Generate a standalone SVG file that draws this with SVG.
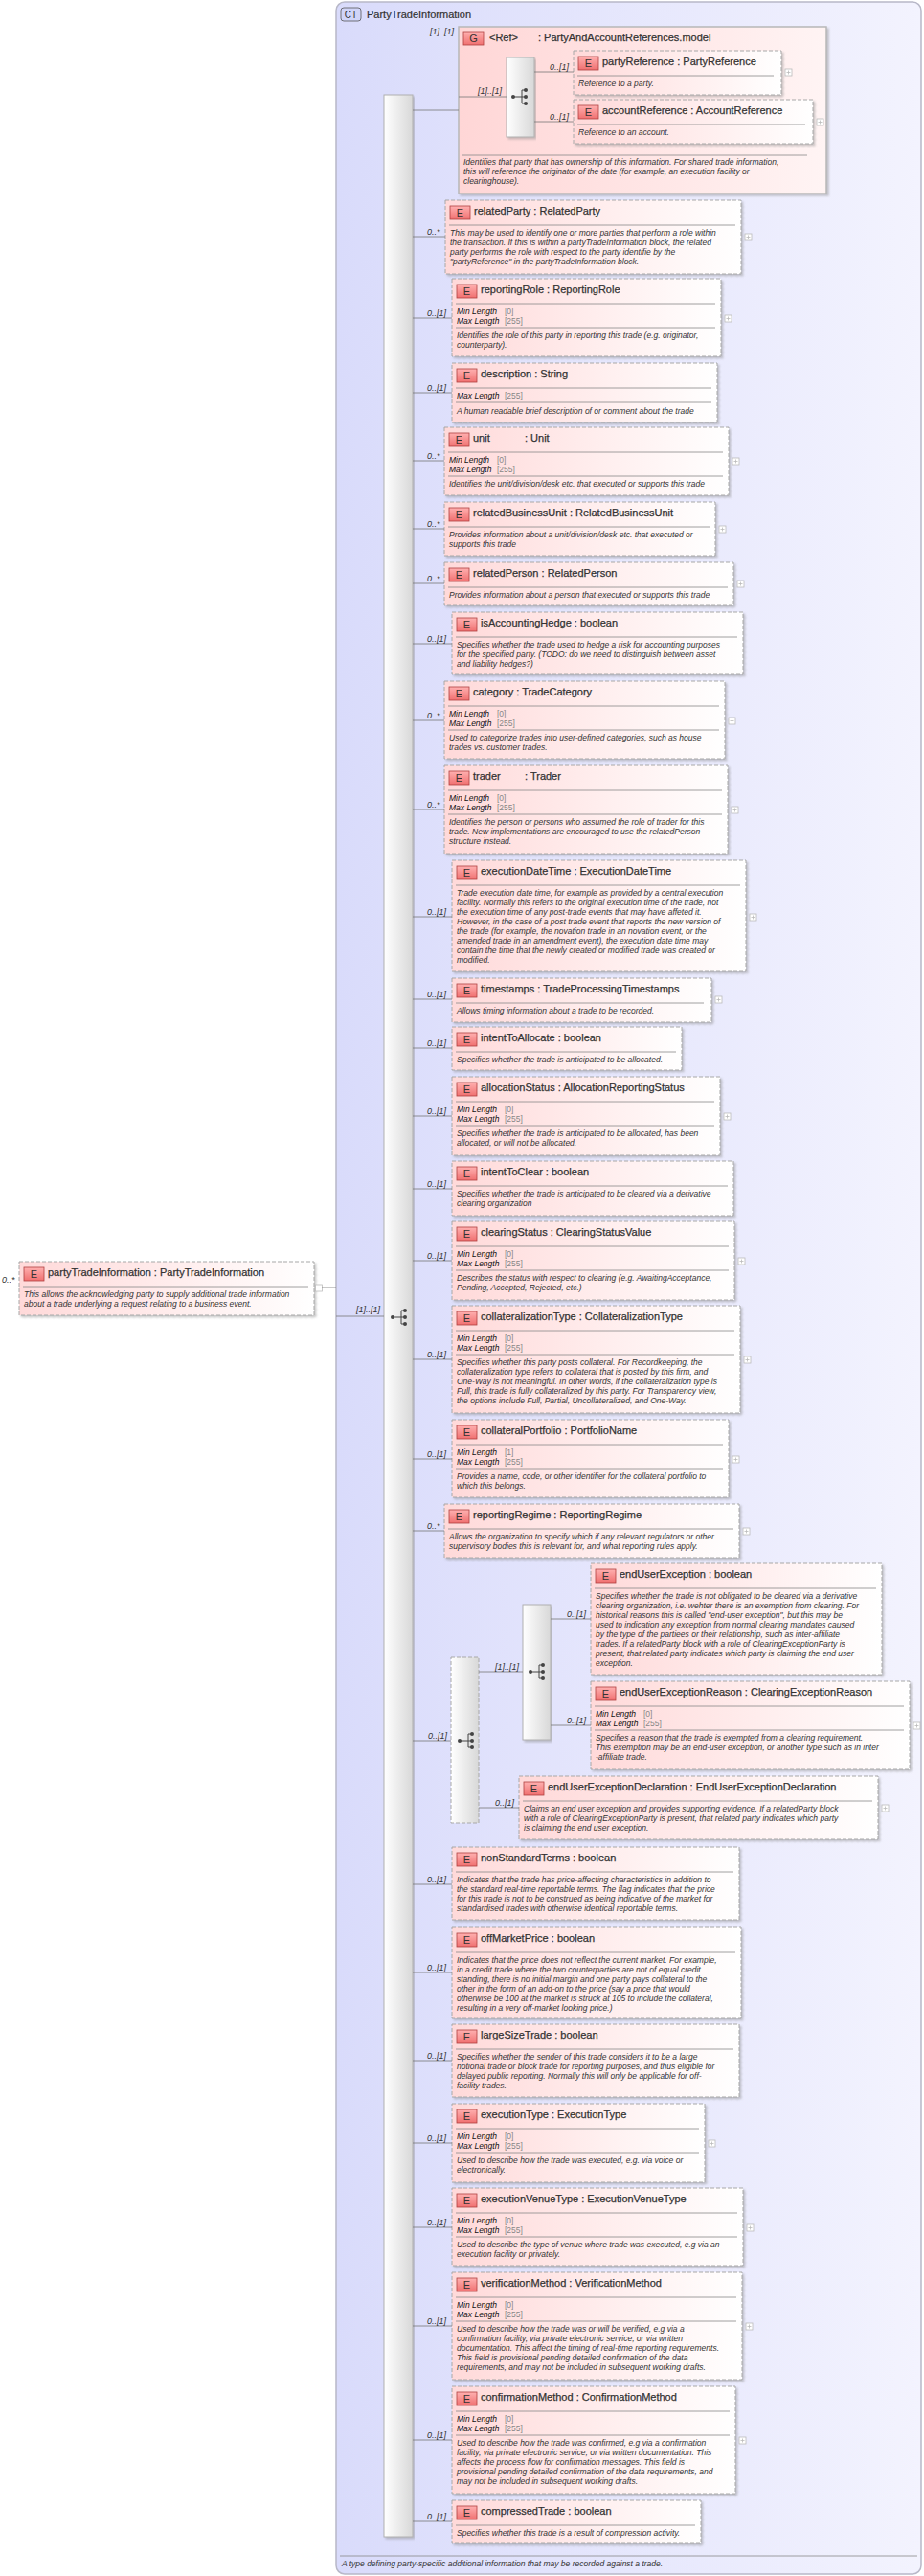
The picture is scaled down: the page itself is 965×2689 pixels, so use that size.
<svg xmlns="http://www.w3.org/2000/svg" width="965" height="2689" viewBox="0 0 965 2689">
<defs>
<linearGradient id="gCT" x1="0" x2="1" y1="0" y2="0"><stop offset="0" stop-color="#d9dbfb"/><stop offset="1" stop-color="#f3f3fe"/></linearGradient>
<linearGradient id="gEl" x1="0" x2="1" y1="0" y2="0"><stop offset="0" stop-color="#ffd9d9"/><stop offset="1" stop-color="#ffffff"/></linearGradient>
<linearGradient id="gG" x1="0" x2="1" y1="0" y2="0"><stop offset="0" stop-color="#ffd6d6"/><stop offset="1" stop-color="#fff4f4"/></linearGradient>
<linearGradient id="gBar" x1="0" x2="1" y1="0" y2="0"><stop offset="0" stop-color="#ffffff"/><stop offset="1" stop-color="#d8d8d8"/></linearGradient>
<linearGradient id="gIc" x1="0" x2="0" y1="0" y2="1"><stop offset="0" stop-color="#ffb0b0"/><stop offset="1" stop-color="#f07070"/></linearGradient>
<filter id="sh" x="-5%" y="-5%" width="110%" height="115%"><feDropShadow dx="2" dy="2" stdDeviation="1" flood-color="#888" flood-opacity="0.45"/></filter>
</defs>
<style>
text{font-family:"Liberation Sans",Arial,sans-serif;}
.box{fill:url(#gEl);stroke:#a8a8a8;stroke-width:1;stroke-dasharray:4,2;filter:url(#sh);}
.gbox{fill:url(#gG);stroke:#b8b8b8;stroke-width:1.5;filter:url(#sh);}
.ei{fill:url(#gIc);stroke:#b04040;stroke-width:0.8;}
.eil{font-size:11px;fill:#333;text-anchor:middle;}
.hd{font-size:11px;fill:#333;stroke:#333;stroke-width:0.25;}
.sep{stroke:#888;stroke-width:0.8;}
.ds{font-size:8.5px;font-style:italic;fill:#333;}
.mm{font-size:8.5px;font-style:italic;fill:#111;}
.mv{font-size:8.5px;fill:#888;}
.pl{fill:#fff;stroke:#bbb;stroke-width:0.8;}
.plx{stroke:#bbb;stroke-width:0.8;}
.bar{fill:url(#gBar);stroke:#b0b0b0;stroke-width:1;filter:url(#sh);}
.dbar{fill:url(#gBar);stroke:#a8a8a8;stroke-width:1;stroke-dasharray:4,2;}
.cn{stroke:#777;stroke-width:0.8;fill:none;}
.cd{font-size:9px;font-style:italic;fill:#333;}
.ic{stroke:#444;stroke-width:1;fill:none;}
.icd{fill:#444;}
</style>

<g id="ct-PartyTradeInformation">
<rect x="351" y="2" width="611" height="2685" rx="9" fill="url(#gCT)" stroke="#b8b8c8" stroke-width="1.5"/>
<rect x="356" y="8" width="21" height="14" rx="3" fill="#d0d4f8" stroke="#555" stroke-width="0.8"/>
<text x="366.5" y="19" font-size="10" fill="#333" text-anchor="middle">CT</text>
<text x="383" y="19" font-size="11" fill="#333" stroke="#333" stroke-width="0.2">PartyTradeInformation</text>
<line x1="355" y1="2668" x2="958" y2="2668" class="sep"/>
<text x="357" y="2679" class="ds">A type defining party-specific additional information that may be recorded against a trade.</text>
</g>

<g id="seq-main">
<rect class="bar" x="401" y="99" width="30" height="2549"/>
<circle class="icd" cx="410" cy="1375" r="2"/><line class="ic" x1="410" y1="1375" x2="416" y2="1375"/>
<path class="ic" d="M419,1368 V1382 M416,1375 H419 M419,1368 H423 M419,1375 H423 M419,1382 H423"/>
<circle class="icd" cx="423" cy="1368" r="2"/><circle class="icd" cx="423" cy="1375" r="2"/><circle class="icd" cx="423" cy="1382" r="2"/>
</g>

<g id="el-partyTradeInformation" transform="translate(20,1317)">
<rect class="box" width="308" height="56"/>
<rect class="ei" x="5" y="6" width="21" height="14"/><text class="eil" x="15.5" y="17">E</text>
<text class="hd" x="30" y="15">partyTradeInformation : PartyTradeInformation</text>
<line class="sep" x1="4" x2="302" y1="26" y2="26"/>
<text class="ds"><tspan x="5" y="37">This allows the acknowledging party to supply additional trade information</tspan><tspan x="5" y="47">about a trade underlying a request relating to a business event.</tspan></text>
<rect class="pl" x="309.5" y="24" width="7" height="7"/><line class="plx" x1="311" y1="27.5" x2="315" y2="27.5"/>
</g>

<g id="grp-PartyAndAccountReferences">
<rect class="gbox" x="479" y="28" width="384" height="174"/>
<rect class="ei" x="484" y="33" width="21" height="14"/><text class="eil" x="494.5" y="44">G</text>
<text class="hd" x="511" y="43">&lt;Ref&gt;</text>
<text class="hd" x="562" y="43">: PartyAndAccountReferences.model</text>
<rect class="bar" x="529" y="60" width="29" height="83"/>
<circle class="icd" cx="536" cy="101" r="2"/><line class="ic" x1="536" y1="101" x2="542" y2="101"/>
<path class="ic" d="M545,94 V108 M542,101 H545 M545,94 H549 M545,101 H549 M545,108 H549"/>
<circle class="icd" cx="549" cy="94" r="2"/><circle class="icd" cx="549" cy="101" r="2"/><circle class="icd" cx="549" cy="108" r="2"/>
<line class="sep" x1="483" x2="843" y1="162" y2="162"/>
<text class="ds"><tspan x="484" y="172">Identifies that party that has ownership of this information. For shared trade information,</tspan><tspan x="484" y="182">this will reference the originator of the date (for example, an execution facility or</tspan><tspan x="484" y="192">clearinghouse).</tspan></text>
</g>

<g id="el-partyReference" transform="translate(599,53)">
<rect class="box" width="217" height="46"/>
<rect class="ei" x="5" y="6" width="21" height="14"/><text class="eil" x="15.5" y="17">E</text>
<text class="hd" x="30" y="15">partyReference : PartyReference</text>
<line class="sep" x1="4" x2="209" y1="26" y2="26"/>
<text class="ds" x="5" y="37">Reference to a party.</text>
<rect class="pl" x="221" y="19" width="7" height="7"/><path class="plx" d="M222.5,22.5 H226.5 M224.5,20.5 V24.5"/>
</g>
<g id="el-accountReference" transform="translate(599,104)">
<rect class="box" width="250" height="46"/>
<rect class="ei" x="5" y="6" width="21" height="14"/><text class="eil" x="15.5" y="17">E</text>
<text class="hd" x="30" y="15">accountReference : AccountReference</text>
<line class="sep" x1="4" x2="242" y1="26" y2="26"/>
<text class="ds" x="5" y="37">Reference to an account.</text>
<rect class="pl" x="254" y="20" width="7" height="7"/><path class="plx" d="M255.5,23.5 H259.5 M257.5,21.5 V25.5"/>
</g>

<g id="el-relatedParty" transform="translate(465,209)">
<rect class="box" width="309" height="77"/>
<rect class="ei" x="5" y="6" width="21" height="14"/><text class="eil" x="15.5" y="17">E</text>
<text class="hd" x="30" y="15">relatedParty : RelatedParty</text>
<line class="sep" x1="4" x2="303" y1="26" y2="26"/>
<text class="ds"><tspan x="5" y="37">This may be used to identify one or more parties that perform a role within</tspan><tspan x="5" y="47">the transaction. If this is within a partyTradeInformation block, the related</tspan><tspan x="5" y="57">party performs the role with respect to the party identifie by the</tspan><tspan x="5" y="67">"partyReference" in the partyTradeInformation block.</tspan></text>
<rect class="pl" x="313" y="35" width="7" height="7"/><path class="plx" d="M314.5,38.5 H318.5 M316.5,36.5 V40.5"/>
</g>

<g id="el-reportingRole" transform="translate(472,291)">
<rect class="box" width="281" height="81"/>
<rect class="ei" x="5" y="6" width="21" height="14"/><text class="eil" x="15.5" y="17">E</text>
<text class="hd" x="30" y="15">reportingRole : ReportingRole</text>
<line class="sep" x1="4" x2="275" y1="26" y2="26"/>
<text class="mm" x="5" y="37">Min Length</text><text class="mv" x="55" y="37">[0]</text>
<text class="mm" x="5" y="47">Max Length</text><text class="mv" x="55" y="47">[255]</text>
<line class="sep" x1="4" x2="275" y1="51" y2="51"/>
<text class="ds"><tspan x="5" y="62">Identifies the role of this party in reporting this trade (e.g. originator,</tspan><tspan x="5" y="72">counterparty).</tspan></text>
<rect class="pl" x="285" y="38" width="7" height="7"/><path class="plx" d="M286.5,41.5 H290.5 M288.5,39.5 V43.5"/>
</g>

<g id="el-description" transform="translate(472,379)">
<rect class="box" width="277" height="62"/>
<rect class="ei" x="5" y="6" width="21" height="14"/><text class="eil" x="15.5" y="17">E</text>
<text class="hd" x="30" y="15">description : String</text>
<line class="sep" x1="4" x2="271" y1="26" y2="26"/>
<text class="mm" x="5" y="37">Max Length</text><text class="mv" x="55" y="37">[255]</text>
<line class="sep" x1="4" x2="271" y1="41" y2="41"/>
<text class="ds" x="5" y="53">A human readable brief description of or comment about the trade</text>
</g>

<g id="el-unit" transform="translate(464,446)">
<rect class="box" width="297" height="71"/>
<rect class="ei" x="5" y="6" width="21" height="14"/><text class="eil" x="15.5" y="17">E</text>
<text class="hd" x="30" y="15">unit</text><text class="hd" x="84" y="15">: Unit</text>
<line class="sep" x1="4" x2="291" y1="26" y2="26"/>
<text class="mm" x="5" y="37">Min Length</text><text class="mv" x="55" y="37">[0]</text>
<text class="mm" x="5" y="47">Max Length</text><text class="mv" x="55" y="47">[255]</text>
<line class="sep" x1="4" x2="291" y1="51" y2="51"/>
<text class="ds" x="5" y="62">Identifies the unit/division/desk etc. that executed or supports this trade</text>
<rect class="pl" x="301" y="32" width="7" height="7"/><path class="plx" d="M302.5,35.5 H306.5 M304.5,33.5 V37.5"/>
</g>

<g id="el-relatedBusinessUnit" transform="translate(464,524)">
<rect class="box" width="283" height="56"/>
<rect class="ei" x="5" y="6" width="21" height="14"/><text class="eil" x="15.5" y="17">E</text>
<text class="hd" x="30" y="15">relatedBusinessUnit : RelatedBusinessUnit</text>
<line class="sep" x1="4" x2="277" y1="26" y2="26"/>
<text class="ds"><tspan x="5" y="37">Provides information about a unit/division/desk etc. that executed or</tspan><tspan x="5" y="47">supports this trade</tspan></text>
<rect class="pl" x="287" y="25" width="7" height="7"/><path class="plx" d="M288.5,28.5 H292.5 M290.5,26.5 V30.5"/>
</g>

<g id="el-relatedPerson" transform="translate(464,587)">
<rect class="box" width="302" height="45"/>
<rect class="ei" x="5" y="6" width="21" height="14"/><text class="eil" x="15.5" y="17">E</text>
<text class="hd" x="30" y="15">relatedPerson : RelatedPerson</text>
<line class="sep" x1="4" x2="296" y1="26" y2="26"/>
<text class="ds" x="5" y="37">Provides information about a person that executed or supports this trade</text>
<rect class="pl" x="306" y="19" width="7" height="7"/><path class="plx" d="M307.5,22.5 H311.5 M309.5,20.5 V24.5"/>
</g>

<g id="el-isAccountingHedge" transform="translate(472,639)">
<rect class="box" width="304" height="65"/>
<rect class="ei" x="5" y="6" width="21" height="14"/><text class="eil" x="15.5" y="17">E</text>
<text class="hd" x="30" y="15">isAccountingHedge : boolean</text>
<line class="sep" x1="4" x2="298" y1="26" y2="26"/>
<text class="ds"><tspan x="5" y="37">Specifies whether the trade used to hedge a risk for accounting purposes</tspan><tspan x="5" y="47">for the specified party. (TODO: do we need to distinguish between asset</tspan><tspan x="5" y="57">and liability hedges?)</tspan></text>
</g>

<g id="el-category" transform="translate(464,711)">
<rect class="box" width="293" height="81"/>
<rect class="ei" x="5" y="6" width="21" height="14"/><text class="eil" x="15.5" y="17">E</text>
<text class="hd" x="30" y="15">category : TradeCategory</text>
<line class="sep" x1="4" x2="287" y1="26" y2="26"/>
<text class="mm" x="5" y="37">Min Length</text><text class="mv" x="55" y="37">[0]</text>
<text class="mm" x="5" y="47">Max Length</text><text class="mv" x="55" y="47">[255]</text>
<line class="sep" x1="4" x2="287" y1="51" y2="51"/>
<text class="ds"><tspan x="5" y="62">Used to categorize trades into user-defined categories, such as house</tspan><tspan x="5" y="72">trades vs. customer trades.</tspan></text>
<rect class="pl" x="297" y="38" width="7" height="7"/><path class="plx" d="M298.5,41.5 H302.5 M300.5,39.5 V43.5"/>
</g>

<g id="el-trader" transform="translate(464,799)">
<rect class="box" width="296" height="92"/>
<rect class="ei" x="5" y="6" width="21" height="14"/><text class="eil" x="15.5" y="17">E</text>
<text class="hd" x="30" y="15">trader</text><text class="hd" x="84" y="15">: Trader</text>
<line class="sep" x1="4" x2="290" y1="26" y2="26"/>
<text class="mm" x="5" y="37">Min Length</text><text class="mv" x="55" y="37">[0]</text>
<text class="mm" x="5" y="47">Max Length</text><text class="mv" x="55" y="47">[255]</text>
<line class="sep" x1="4" x2="290" y1="51" y2="51"/>
<text class="ds"><tspan x="5" y="62">Identifies the person or persons who assumed the role of trader for this</tspan><tspan x="5" y="72">trade. New implementations are encouraged to use the relatedPerson</tspan><tspan x="5" y="82">structure instead.</tspan></text>
<rect class="pl" x="300" y="43" width="7" height="7"/><path class="plx" d="M301.5,46.5 H305.5 M303.5,44.5 V48.5"/>
</g>

<g id="el-executionDateTime" transform="translate(472,898)">
<rect class="box" width="307" height="116"/>
<rect class="ei" x="5" y="6" width="21" height="14"/><text class="eil" x="15.5" y="17">E</text>
<text class="hd" x="30" y="15">executionDateTime : ExecutionDateTime</text>
<line class="sep" x1="4" x2="301" y1="26" y2="26"/>
<text class="ds"><tspan x="5" y="37">Trade execution date time, for example as provided by a central execution</tspan><tspan x="5" y="47">facility. Normally this refers to the original execution time of the trade, not</tspan><tspan x="5" y="57">the execution time of any post-trade events that may have affeted it.</tspan><tspan x="5" y="67">However, in the case of a post trade event that reports the new version of</tspan><tspan x="5" y="77">the trade (for example, the novation trade in an novation event, or the</tspan><tspan x="5" y="87">amended trade in an amendment event), the execution date time may</tspan><tspan x="5" y="97">contain the time that the newly created or modified trade was created or</tspan><tspan x="5" y="107">modified.</tspan></text>
<rect class="pl" x="311" y="56" width="7" height="7"/><path class="plx" d="M312.5,59.5 H316.5 M314.5,57.5 V61.5"/>
</g>

<g id="el-timestamps" transform="translate(472,1021)">
<rect class="box" width="271" height="46"/>
<rect class="ei" x="5" y="6" width="21" height="14"/><text class="eil" x="15.5" y="17">E</text>
<text class="hd" x="30" y="15">timestamps : TradeProcessingTimestamps</text>
<line class="sep" x1="4" x2="263" y1="26" y2="26"/>
<text class="ds" x="5" y="37">Allows timing information about a trade to be recorded.</text>
<rect class="pl" x="275" y="19" width="7" height="7"/><path class="plx" d="M276.5,22.5 H280.5 M278.5,20.5 V24.5"/>
</g>

<g id="el-intentToAllocate" transform="translate(472,1072)">
<rect class="box" width="240" height="45"/>
<rect class="ei" x="5" y="6" width="21" height="14"/><text class="eil" x="15.5" y="17">E</text>
<text class="hd" x="30" y="15">intentToAllocate : boolean</text>
<line class="sep" x1="4" x2="234" y1="26" y2="26"/>
<text class="ds" x="5" y="37">Specifies whether the trade is anticipated to be allocated.</text>
</g>

<g id="el-allocationStatus" transform="translate(472,1124)">
<rect class="box" width="280" height="82"/>
<rect class="ei" x="5" y="6" width="21" height="14"/><text class="eil" x="15.5" y="17">E</text>
<text class="hd" x="30" y="15">allocationStatus : AllocationReportingStatus</text>
<line class="sep" x1="4" x2="274" y1="26" y2="26"/>
<text class="mm" x="5" y="37">Min Length</text><text class="mv" x="55" y="37">[0]</text>
<text class="mm" x="5" y="47">Max Length</text><text class="mv" x="55" y="47">[255]</text>
<line class="sep" x1="4" x2="274" y1="51" y2="51"/>
<text class="ds"><tspan x="5" y="62">Specifies whether the trade is anticipated to be allocated, has been</tspan><tspan x="5" y="72">allocated, or will not be allocated.</tspan></text>
<rect class="pl" x="284" y="38" width="7" height="7"/><path class="plx" d="M285.5,41.5 H289.5 M287.5,39.5 V43.5"/>
</g>

<g id="el-intentToClear" transform="translate(472,1212)">
<rect class="box" width="294" height="57"/>
<rect class="ei" x="5" y="6" width="21" height="14"/><text class="eil" x="15.5" y="17">E</text>
<text class="hd" x="30" y="15">intentToClear : boolean</text>
<line class="sep" x1="4" x2="288" y1="26" y2="26"/>
<text class="ds"><tspan x="5" y="37">Specifies whether the trade is anticipated to be cleared via a derivative</tspan><tspan x="5" y="47">clearing organization</tspan></text>
</g>

<g id="el-clearingStatus" transform="translate(472,1275)">
<rect class="box" width="295" height="82"/>
<rect class="ei" x="5" y="6" width="21" height="14"/><text class="eil" x="15.5" y="17">E</text>
<text class="hd" x="30" y="15">clearingStatus : ClearingStatusValue</text>
<line class="sep" x1="4" x2="289" y1="26" y2="26"/>
<text class="mm" x="5" y="37">Min Length</text><text class="mv" x="55" y="37">[0]</text>
<text class="mm" x="5" y="47">Max Length</text><text class="mv" x="55" y="47">[255]</text>
<line class="sep" x1="4" x2="289" y1="51" y2="51"/>
<text class="ds"><tspan x="5" y="62">Describes the status with respect to clearing (e.g. AwaitingAcceptance,</tspan><tspan x="5" y="72">Pending, Accepted, Rejected, etc.)</tspan></text>
<rect class="pl" x="299" y="38" width="7" height="7"/><path class="plx" d="M300.5,41.5 H304.5 M302.5,39.5 V43.5"/>
</g>

<g id="el-collateralizationType" transform="translate(472,1363)">
<rect class="box" width="301" height="112"/>
<rect class="ei" x="5" y="6" width="21" height="14"/><text class="eil" x="15.5" y="17">E</text>
<text class="hd" x="30" y="15">collateralizationType : CollateralizationType</text>
<line class="sep" x1="4" x2="295" y1="26" y2="26"/>
<text class="mm" x="5" y="37">Min Length</text><text class="mv" x="55" y="37">[0]</text>
<text class="mm" x="5" y="47">Max Length</text><text class="mv" x="55" y="47">[255]</text>
<line class="sep" x1="4" x2="295" y1="51" y2="51"/>
<text class="ds"><tspan x="5" y="62">Specifies whether this party posts collateral. For Recordkeeping, the</tspan><tspan x="5" y="72">collateralization type refers to collateral that is posted by this firm, and</tspan><tspan x="5" y="82">One-Way is not meaningful. In other words, if the collateralization type is</tspan><tspan x="5" y="92">Full, this trade is fully collateralized by this party. For Transparency view,</tspan><tspan x="5" y="102">the options include Full, Partial, Uncollateralized, and One-Way.</tspan></text>
<rect class="pl" x="305" y="53" width="7" height="7"/><path class="plx" d="M306.5,56.5 H310.5 M308.5,54.5 V58.5"/>
</g>

<g id="el-collateralPortfolio" transform="translate(472,1482)">
<rect class="box" width="289" height="81"/>
<rect class="ei" x="5" y="6" width="21" height="14"/><text class="eil" x="15.5" y="17">E</text>
<text class="hd" x="30" y="15">collateralPortfolio : PortfolioName</text>
<line class="sep" x1="4" x2="283" y1="26" y2="26"/>
<text class="mm" x="5" y="37">Min Length</text><text class="mv" x="55" y="37">[1]</text>
<text class="mm" x="5" y="47">Max Length</text><text class="mv" x="55" y="47">[255]</text>
<line class="sep" x1="4" x2="283" y1="51" y2="51"/>
<text class="ds"><tspan x="5" y="62">Provides a name, code, or other identifier for the collateral portfolio to</tspan><tspan x="5" y="72">which this belongs.</tspan></text>
<rect class="pl" x="293" y="38" width="7" height="7"/><path class="plx" d="M294.5,41.5 H298.5 M296.5,39.5 V43.5"/>
</g>

<g id="el-reportingRegime" transform="translate(464,1570)">
<rect class="box" width="308" height="56"/>
<rect class="ei" x="5" y="6" width="21" height="14"/><text class="eil" x="15.5" y="17">E</text>
<text class="hd" x="30" y="15">reportingRegime : ReportingRegime</text>
<line class="sep" x1="4" x2="302" y1="26" y2="26"/>
<text class="ds"><tspan x="5" y="37">Allows the organization to specify which if any relevant regulators or other</tspan><tspan x="5" y="47">supervisory bodies this is relevant for, and what reporting rules apply.</tspan></text>
<rect class="pl" x="312" y="25" width="7" height="7"/><path class="plx" d="M313.5,28.5 H317.5 M315.5,26.5 V30.5"/>
</g>

<g id="seq-endUser">
<rect class="dbar" x="471" y="1730" width="29" height="173"/>
<circle class="icd" cx="480" cy="1817" r="2"/><line class="ic" x1="480" y1="1817" x2="486" y2="1817"/>
<path class="ic" d="M489,1810 V1824 M486,1817 H489 M489,1810 H493 M489,1817 H493 M489,1824 H493"/>
<circle class="icd" cx="493" cy="1810" r="2"/><circle class="icd" cx="493" cy="1817" r="2"/><circle class="icd" cx="493" cy="1824" r="2"/>
</g>
<g id="choice-endUser">
<rect class="bar" x="546" y="1675" width="29" height="141"/>
<circle class="icd" cx="554" cy="1745" r="2"/><line class="ic" x1="554" y1="1745" x2="560" y2="1745"/>
<path class="ic" d="M563,1738 V1752 M560,1745 H563 M563,1738 H567 M563,1745 H567 M563,1752 H567"/>
<circle class="icd" cx="567" cy="1738" r="2"/><circle class="icd" cx="567" cy="1745" r="2"/><circle class="icd" cx="567" cy="1752" r="2"/>
</g>

<g id="el-endUserException" transform="translate(617,1632)">
<rect class="box" width="304" height="116"/>
<rect class="ei" x="5" y="6" width="21" height="14"/><text class="eil" x="15.5" y="17">E</text>
<text class="hd" x="30" y="15">endUserException : boolean</text>
<line class="sep" x1="4" x2="298" y1="26" y2="26"/>
<text class="ds"><tspan x="5" y="37">Specifies whether the trade is not obligated to be cleared via a derivative</tspan><tspan x="5" y="47">clearing organization, i.e. wehter there is an exemption from clearing. For</tspan><tspan x="5" y="57">historical reasons this is called "end-user exception", but this may be</tspan><tspan x="5" y="67">used to indication any exception from normal clearing mandates caused</tspan><tspan x="5" y="77">by the type of the partiees or their relationship, such as inter-affiliate</tspan><tspan x="5" y="87">trades. If a relatedParty block with a role of ClearingExceptionParty is</tspan><tspan x="5" y="97">present, that related party indicates which party is claiming the end user</tspan><tspan x="5" y="107">exception.</tspan></text>
</g>

<g id="el-endUserExceptionReason" transform="translate(617,1755)">
<rect class="box" width="333" height="92"/>
<rect class="ei" x="5" y="6" width="21" height="14"/><text class="eil" x="15.5" y="17">E</text>
<text class="hd" x="30" y="15">endUserExceptionReason : ClearingExceptionReason</text>
<line class="sep" x1="4" x2="327" y1="26" y2="26"/>
<text class="mm" x="5" y="37">Min Length</text><text class="mv" x="55" y="37">[0]</text>
<text class="mm" x="5" y="47">Max Length</text><text class="mv" x="55" y="47">[255]</text>
<line class="sep" x1="4" x2="327" y1="51" y2="51"/>
<text class="ds"><tspan x="5" y="62">Specifies a reason that the trade is exempted from a clearing requirement.</tspan><tspan x="5" y="72">This exemption may be an end-user exception, or another type such as in inter</tspan><tspan x="5" y="82">-affiliate trade.</tspan></text>
<rect class="pl" x="337" y="43" width="7" height="7"/><path class="plx" d="M338.5,46.5 H342.5 M340.5,44.5 V48.5"/>
</g>

<g id="el-endUserExceptionDeclaration" transform="translate(542,1854)">
<rect class="box" width="375" height="66"/>
<rect class="ei" x="5" y="6" width="21" height="14"/><text class="eil" x="15.5" y="17">E</text>
<text class="hd" x="30" y="15">endUserExceptionDeclaration : EndUserExceptionDeclaration</text>
<line class="sep" x1="4" x2="369" y1="26" y2="26"/>
<text class="ds"><tspan x="5" y="37">Claims an end user exception and provides supporting evidence. If a relatedParty block</tspan><tspan x="5" y="47">with a role of ClearingExceptionParty is present, that related party indicates which party</tspan><tspan x="5" y="57">is claiming the end user exception.</tspan></text>
<rect class="pl" x="379" y="30" width="7" height="7"/><path class="plx" d="M380.5,33.5 H384.5 M382.5,31.5 V35.5"/>
</g>

<g id="el-nonStandardTerms" transform="translate(472,1928)">
<rect class="box" width="300" height="76"/>
<rect class="ei" x="5" y="6" width="21" height="14"/><text class="eil" x="15.5" y="17">E</text>
<text class="hd" x="30" y="15">nonStandardTerms : boolean</text>
<line class="sep" x1="4" x2="294" y1="26" y2="26"/>
<text class="ds"><tspan x="5" y="37">Indicates that the trade has price-affecting characteristics in addition to</tspan><tspan x="5" y="47">the standard real-time reportable terms. The flag indicates that the price</tspan><tspan x="5" y="57">for this trade is not to be construed as being indicative of the market for</tspan><tspan x="5" y="67">standardised trades with otherwise identical reportable terms.</tspan></text>
</g>

<g id="el-offMarketPrice" transform="translate(472,2012)">
<rect class="box" width="302" height="95"/>
<rect class="ei" x="5" y="6" width="21" height="14"/><text class="eil" x="15.5" y="17">E</text>
<text class="hd" x="30" y="15">offMarketPrice : boolean</text>
<line class="sep" x1="4" x2="296" y1="26" y2="26"/>
<text class="ds"><tspan x="5" y="37">Indicates that the price does not reflect the current market. For example,</tspan><tspan x="5" y="47">in a credit trade where the two counterparties are not of equal credit</tspan><tspan x="5" y="57">standing, there is no initial margin and one party pays collateral to the</tspan><tspan x="5" y="67">other in the form of an add-on to the price (say a price that would</tspan><tspan x="5" y="77">otherwise be 100 at the market is struck at 105 to include the collateral,</tspan><tspan x="5" y="87">resulting in a very off-market looking price.)</tspan></text>
</g>

<g id="el-largeSizeTrade" transform="translate(472,2113)">
<rect class="box" width="300" height="76"/>
<rect class="ei" x="5" y="6" width="21" height="14"/><text class="eil" x="15.5" y="17">E</text>
<text class="hd" x="30" y="15">largeSizeTrade : boolean</text>
<line class="sep" x1="4" x2="294" y1="26" y2="26"/>
<text class="ds"><tspan x="5" y="37">Specifies whether the sender of this trade considers it to be a large</tspan><tspan x="5" y="47">notional trade or block trade for reporting purposes, and thus eligible for</tspan><tspan x="5" y="57">delayed public reporting. Normally this will only be applicable for off-</tspan><tspan x="5" y="67">facility trades.</tspan></text>
</g>

<g id="el-executionType" transform="translate(472,2196)">
<rect class="box" width="264" height="82"/>
<rect class="ei" x="5" y="6" width="21" height="14"/><text class="eil" x="15.5" y="17">E</text>
<text class="hd" x="30" y="15">executionType : ExecutionType</text>
<line class="sep" x1="4" x2="258" y1="26" y2="26"/>
<text class="mm" x="5" y="37">Min Length</text><text class="mv" x="55" y="37">[0]</text>
<text class="mm" x="5" y="47">Max Length</text><text class="mv" x="55" y="47">[255]</text>
<line class="sep" x1="4" x2="258" y1="51" y2="51"/>
<text class="ds"><tspan x="5" y="62">Used to describe how the trade was executed, e.g. via voice or</tspan><tspan x="5" y="72">electronically.</tspan></text>
<rect class="pl" x="268" y="38" width="7" height="7"/><path class="plx" d="M269.5,41.5 H273.5 M271.5,39.5 V43.5"/>
</g>

<g id="el-executionVenueType" transform="translate(472,2284)">
<rect class="box" width="304" height="81"/>
<rect class="ei" x="5" y="6" width="21" height="14"/><text class="eil" x="15.5" y="17">E</text>
<text class="hd" x="30" y="15">executionVenueType : ExecutionVenueType</text>
<line class="sep" x1="4" x2="298" y1="26" y2="26"/>
<text class="mm" x="5" y="37">Min Length</text><text class="mv" x="55" y="37">[0]</text>
<text class="mm" x="5" y="47">Max Length</text><text class="mv" x="55" y="47">[255]</text>
<line class="sep" x1="4" x2="298" y1="51" y2="51"/>
<text class="ds"><tspan x="5" y="62">Used to describe the type of venue where trade was executed, e.g via an</tspan><tspan x="5" y="72">execution facility or privately.</tspan></text>
<rect class="pl" x="308" y="38" width="7" height="7"/><path class="plx" d="M309.5,41.5 H313.5 M311.5,39.5 V43.5"/>
</g>

<g id="el-verificationMethod" transform="translate(472,2372)">
<rect class="box" width="303" height="112"/>
<rect class="ei" x="5" y="6" width="21" height="14"/><text class="eil" x="15.5" y="17">E</text>
<text class="hd" x="30" y="15">verificationMethod : VerificationMethod</text>
<line class="sep" x1="4" x2="297" y1="26" y2="26"/>
<text class="mm" x="5" y="37">Min Length</text><text class="mv" x="55" y="37">[0]</text>
<text class="mm" x="5" y="47">Max Length</text><text class="mv" x="55" y="47">[255]</text>
<line class="sep" x1="4" x2="297" y1="51" y2="51"/>
<text class="ds"><tspan x="5" y="62">Used to describe how the trade was or will be verified, e.g via a</tspan><tspan x="5" y="72">confirmation facility, via private electronic service, or via written</tspan><tspan x="5" y="82">documentation. This affect the timing of real-time reporting requirements.</tspan><tspan x="5" y="92">This field is provisional pending detailed confirmation of the data</tspan><tspan x="5" y="102">requirements, and may not be included in subsequent working drafts.</tspan></text>
<rect class="pl" x="307" y="53" width="7" height="7"/><path class="plx" d="M308.5,56.5 H312.5 M310.5,54.5 V58.5"/>
</g>

<g id="el-confirmationMethod" transform="translate(472,2491)">
<rect class="box" width="296" height="112"/>
<rect class="ei" x="5" y="6" width="21" height="14"/><text class="eil" x="15.5" y="17">E</text>
<text class="hd" x="30" y="15">confirmationMethod : ConfirmationMethod</text>
<line class="sep" x1="4" x2="290" y1="26" y2="26"/>
<text class="mm" x="5" y="37">Min Length</text><text class="mv" x="55" y="37">[0]</text>
<text class="mm" x="5" y="47">Max Length</text><text class="mv" x="55" y="47">[255]</text>
<line class="sep" x1="4" x2="290" y1="51" y2="51"/>
<text class="ds"><tspan x="5" y="62">Used to describe how the trade was confirmed, e.g via a confirmation</tspan><tspan x="5" y="72">facility, via private electronic service, or via written documentation. This</tspan><tspan x="5" y="82">affects the process flow for confirmation messages. This field is</tspan><tspan x="5" y="92">provisional pending detailed confirmation of the data requirements, and</tspan><tspan x="5" y="102">may not be included in subsequent working drafts.</tspan></text>
<rect class="pl" x="300" y="53" width="7" height="7"/><path class="plx" d="M301.5,56.5 H305.5 M303.5,54.5 V58.5"/>
</g>

<g id="el-compressedTrade" transform="translate(472,2610)">
<rect class="box" width="260" height="45"/>
<rect class="ei" x="5" y="6" width="21" height="14"/><text class="eil" x="15.5" y="17">E</text>
<text class="hd" x="30" y="15">compressedTrade : boolean</text>
<line class="sep" x1="4" x2="254" y1="26" y2="26"/>
<text class="ds" x="5" y="37">Specifies whether this trade is a result of compression activity.</text>
</g>

<g id="connectors">
<path class="cn" d="M336,1344 H351 M351,1374 H401 M431,115 H479 M479,101 H529 M558,75 H599 M558,127 H599
M431,247 H465 M431,332 H472 M431,410 H472 M431,481 H464 M431,552 H464 M431,609 H464 M431,672 H472 M431,752 H464 M431,845 H464
M431,957 H472 M431,1043 H472 M431,1094 H472 M431,1165 H472 M431,1241 H472 M431,1316 H472 M431,1419 H472 M431,1523 H472 M431,1598 H464
M431,1817 H471 M500,1745 H546 M575,1690 H617 M575,1801 H617 M500,1887 H542
M431,1967 H472 M431,2059 H472 M431,2151 H472 M431,2237 H472 M431,2325 H472 M431,2428 H472 M431,2547 H472 M431,2632 H472"/>
<text class="cd" x="2" y="1339">0..*</text>
<text class="cd" x="372" y="1370">[1]..[1]</text>
<text class="cd" x="449" y="36">[1]..[1]</text>
<text class="cd" x="499" y="98">[1]..[1]</text>
<text class="cd" x="574" y="73">0..[1]</text>
<text class="cd" x="574" y="125">0..[1]</text>
<text class="cd" x="446" y="245">0..*</text>
<text class="cd" x="446" y="330">0..[1]</text>
<text class="cd" x="446" y="408">0..[1]</text>
<text class="cd" x="446" y="479">0..*</text>
<text class="cd" x="446" y="550">0..*</text>
<text class="cd" x="446" y="607">0..*</text>
<text class="cd" x="446" y="670">0..[1]</text>
<text class="cd" x="446" y="750">0..*</text>
<text class="cd" x="446" y="843">0..*</text>
<text class="cd" x="446" y="955">0..[1]</text>
<text class="cd" x="446" y="1041">0..[1]</text>
<text class="cd" x="446" y="1092">0..[1]</text>
<text class="cd" x="446" y="1163">0..[1]</text>
<text class="cd" x="446" y="1239">0..[1]</text>
<text class="cd" x="446" y="1314">0..[1]</text>
<text class="cd" x="446" y="1417">0..[1]</text>
<text class="cd" x="446" y="1521">0..[1]</text>
<text class="cd" x="446" y="1596">0..*</text>
<text class="cd" x="447" y="1815">0..[1]</text>
<text class="cd" x="517" y="1743">[1]..[1]</text>
<text class="cd" x="592" y="1688">0..[1]</text>
<text class="cd" x="592" y="1799">0..[1]</text>
<text class="cd" x="517" y="1885">0..[1]</text>
<text class="cd" x="446" y="1965">0..[1]</text>
<text class="cd" x="446" y="2057">0..[1]</text>
<text class="cd" x="446" y="2149">0..[1]</text>
<text class="cd" x="446" y="2235">0..[1]</text>
<text class="cd" x="446" y="2323">0..[1]</text>
<text class="cd" x="446" y="2426">0..[1]</text>
<text class="cd" x="446" y="2545">0..[1]</text>
<text class="cd" x="446" y="2630">0..[1]</text>
</g>
</svg>
